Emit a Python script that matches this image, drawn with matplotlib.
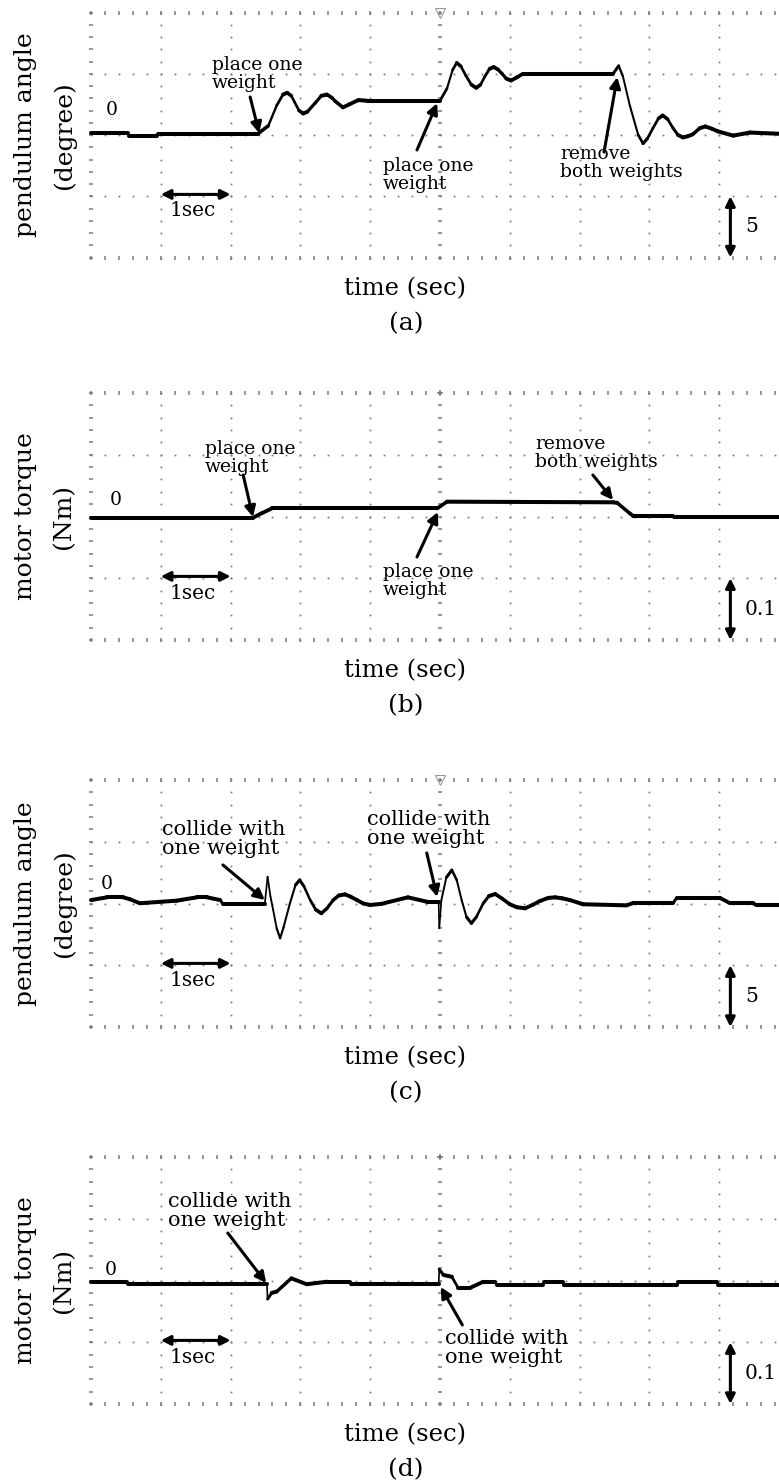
import matplotlib
matplotlib.use("Agg")
import matplotlib.pyplot as plt
from matplotlib.collections import LineCollection
import numpy as np

plt.rcParams['font.family'] = ['DejaVu Serif']

W, H = 779, 1484
DPI = 100

# ---- traces (time in seconds) ----
a_time = [0.0, 0.53, 0.54, 0.95, 0.96, 2.39, 2.54, 2.66, 2.75, 2.81, 2.87, 2.92, 2.98, 3.04,
          3.10, 3.21, 3.30, 3.38, 3.45, 3.50, 3.61, 3.70, 3.83, 3.95, 4.96, 5.00, 5.10, 5.18,
          5.24, 5.30, 5.37, 5.45, 5.52, 5.58, 5.64, 5.71, 5.77, 5.83, 5.89, 5.95, 6.02, 6.10,
          6.19, 7.48, 7.56, 7.62, 7.72, 7.84, 7.91, 7.97, 8.05, 8.13, 8.19, 8.26, 8.34, 8.41,
          8.48, 8.55, 8.62, 8.72, 8.80, 8.90, 8.98, 9.20, 9.44, 9.86]
a_angle = [0.15, 0.15, -0.05, -0.05, 0.1, 0.1, 0.75, 2.4, 3.3, 3.45, 3.2, 2.65, 2.0, 1.75,
           1.9, 2.6, 3.2, 3.3, 3.05, 2.75, 2.25, 2.5, 2.85, 2.8, 2.8, 2.8, 3.8, 5.3,
           5.9, 5.6, 4.85, 4.1, 3.85, 4.1, 4.75, 5.4, 5.55, 5.35, 5.0, 4.6, 4.45, 4.7,
           5.0, 5.0, 5.65, 4.8, 2.4, 0.0, -0.7, -0.3, 0.55, 1.35, 1.6, 1.3, 0.55, 0.0,
           -0.2, -0.1, 0.05, 0.55, 0.7, 0.5, 0.3, -0.05, 0.2, 0.1]

b_time = [0.0, 2.32, 2.44, 2.59, 4.96, 5.10, 7.48, 7.54, 7.72, 7.77, 8.34, 8.35, 9.86]
b_torque = [-0.002, -0.002, 0.005, 0.013, 0.013, 0.024, 0.023, 0.022, 0.005, 0.001, 0.001,
            -0.001, -0.001]

c_time = [0.0, 0.23, 0.46, 0.56, 0.70, 1.23, 1.30, 1.52, 1.66, 1.85, 1.89, 2.49, 2.53, 2.57,
          2.61, 2.66, 2.71, 2.76, 2.85, 2.93, 2.99, 3.05, 3.14, 3.22, 3.30, 3.38, 3.47, 3.55,
          3.64, 3.72, 3.81, 3.90, 4.00, 4.16, 4.54, 4.81, 4.98, 4.99, 5.02, 5.09, 5.17, 5.24,
          5.31, 5.38, 5.45, 5.52, 5.62, 5.70, 5.79, 5.89, 6.00, 6.10, 6.22, 6.33, 6.43, 6.55,
          6.65, 6.75, 6.86, 7.05, 7.67, 7.77, 8.34, 8.39, 9.01, 9.15, 9.48, 9.54, 9.86]
c_angle = [0.28, 0.5, 0.5, 0.34, 0.02, 0.23, 0.3, 0.5, 0.5, 0.28, -0.03, -0.03, 2.17, 0.6,
           -0.53, -2.0, -2.82, -1.9, 0.02, 1.5, 1.9, 1.4, 0.28, -0.5, -0.8, -0.4, 0.28, 0.65,
           0.74, 0.55, 0.28, 0.0, -0.12, -0.03, 0.5, 0.15, 0.15, -2.0, 0.28, 2.1, 2.71, 1.9,
           0.28, -1.1, -1.6, -1.1, 0.02, 0.6, 0.77, 0.4, -0.06, -0.3, -0.39, -0.1, 0.2, 0.45,
           0.5, 0.42, 0.28, -0.06, -0.15, 0.04, 0.04, 0.45, 0.45, 0.04, 0.04, -0.15, -0.15]

d_time = [0.0, 0.52, 0.53, 2.52, 2.53, 2.59, 2.66, 2.87, 3.09, 3.38, 3.71, 3.72, 4.98, 4.99,
          5.05, 5.17, 5.26, 5.43, 5.62, 5.79, 5.81, 6.48, 6.49, 6.76, 6.77, 8.40, 8.41, 8.97,
          8.98, 9.86]
d_torque = [-0.002, -0.002, -0.006, -0.006, -0.030, -0.020, -0.018, 0.0035, -0.006, -0.002,
            -0.002, -0.006, -0.006, 0.018, 0.009, 0.006, -0.012, -0.012, -0.002, -0.002,
            -0.007, -0.007, -0.002, -0.002, -0.008, -0.008, -0.003, -0.003, -0.007, -0.007]

# amplitude per grid division
a_div, b_div, c_div, d_div = 5, 0.1, 5, 0.1
a_scale_label, b_scale_label = "5", "0.1"

# ---- annotations: (text, text_x, text_y, arrow tail, arrow head) ----
a_notes = [("place one\nweight", 1.73, 5.0, (2.28, 3.1), (2.41, 0.15)),
           ("place one\nweight", 4.18, -3.26, (4.67, -1.22), (4.96, 2.6)),
           ("remove\nboth weights", 6.72, -2.28, (7.35, -1.39), (7.54, 4.73))]
b_notes = [("place one\nweight", 1.63, 0.0955, (2.18, 0.0672), (2.32, -0.001)),
           ("place one\nweight", 4.18, -0.1045, (4.67, -0.0656), (4.97, 0.0073)),
           ("remove\nboth weights", 6.36, 0.1036, (7.19, 0.0672), (7.48, 0.0267))]
c_notes = [("collide with\none weight", 1.02, 5.26, (1.89, 3.12), (2.49, 0.28)),
           ("collide with\none weight", 3.95, 6.03, (4.81, 4.09), (4.96, 0.53))]
d_notes = [("collide with\none weight", 1.10, 0.1126, (1.96, 0.0769), (2.51, -0.004)),
           ("collide with\none weight", 5.07, -0.110, (5.32, -0.072), (5.01, -0.0105))]

X_LEFT_PX = 91
X_DIV_PX = 69.8
T_MAX = (W - X_LEFT_PX) / X_DIV_PX
GRID = '#7a7a7a'

fig = plt.figure(figsize=(W / DPI, H / DPI), dpi=DPI)
fig.patch.set_facecolor('white')


def fy(py):
    return 1 - py / H


def fx(px):
    return px / W


def trace(ax, t, v, div, ydiv_px):
    """Scope trace: flat stretches draw heavy, fast swings draw thinner."""
    t = np.asarray(t, float)
    v = np.asarray(v, float)
    pts = np.column_stack([t, v])
    segs = np.stack([pts[:-1], pts[1:]], axis=1)
    dx = np.diff(t) * X_DIV_PX
    dy = np.abs(np.diff(v)) / div * ydiv_px
    steep = dy / np.maximum(dx, 1e-6)
    widths = 1.2 + 1.7 / (1 + (steep / 1.6) ** 2)
    lc = LineCollection(segs, colors='black', linewidths=widths, capstyle='round',
                        joinstyle='round', clip_on=False)
    ax.add_collection(lc)


def panel(top_px, bot_px, t, v, div, notes, note_size, scale_label, zero_xy,
          ylab1, ylab2, letter, trigger):
    ax = fig.add_axes([fx(X_LEFT_PX), fy(bot_px), 1 - fx(X_LEFT_PX), (bot_px - top_px) / H])
    ax.set_xlim(0, T_MAX)
    ax.set_ylim(-2 * div, 2 * div)
    ax.axis('off')
    ydiv_px = (bot_px - top_px) / 4

    # dotted graticule
    minor_x = np.arange(0, T_MAX + 1e-9, 0.2)
    minor_y = np.arange(-2, 2.0001, 0.2) * div
    for k in range(0, 10):
        if k == 0:
            ax.plot(np.full_like(minor_y, k), minor_y, ls='none', marker='_', ms=3.5,
                    mew=1.1, color=GRID, clip_on=False)
        elif k == 5:
            ax.plot(np.full_like(minor_y, k), minor_y, ls='none', marker='_', ms=2.5,
                    mew=1.1, color=GRID, clip_on=False)
        else:
            ax.plot(np.full_like(minor_y, k), minor_y, ls='none', marker='s', ms=1.25,
                    mew=0, color=GRID, clip_on=False)
    for j in range(-2, 3):
        yy = np.full_like(minor_x, j * div)
        if abs(j) == 2:
            ax.plot(minor_x, yy, ls='none', marker='|', ms=3.5, mew=1.1, color=GRID,
                    clip_on=False)
        else:
            ax.plot(minor_x, yy, ls='none', marker='s', ms=1.25, mew=0, color=GRID,
                    clip_on=False)
    if trigger:
        ax.plot([5], [2 * div], marker='v', ms=7, mfc='none', mec='#999999', mew=0.8,
                clip_on=False)
    else:
        ax.plot([5], [2 * div], marker='+', ms=5, mew=1.1, color=GRID, clip_on=False)

    trace(ax, t, v, div, ydiv_px)

    # event labels and arrows
    for txt, tx, ty, tail, head in notes:
        ax.text(tx, ty, txt, ha='left', va='center', fontsize=note_size, linespacing=1.0)
        ax.annotate('', xy=head, xytext=tail,
                    arrowprops=dict(arrowstyle='-|>', color='black', lw=2.2,
                                    mutation_scale=16, shrinkA=0, shrinkB=0))

    # zero marker
    ax.text(zero_xy[0], zero_xy[1], '0', ha='center', va='center', fontsize=13.5)

    # time scale bar
    ax.annotate('', xy=(1, -0.97 * div), xytext=(2, -0.97 * div),
                arrowprops=dict(arrowstyle='<|-|>', color='black', lw=2.2,
                                mutation_scale=14, shrinkA=0, shrinkB=0))
    ax.text(1.46, -1.24 * div, '1sec', ha='center', va='center', fontsize=14.5)

    # amplitude scale bar
    ax.annotate('', xy=(9.16, -2 * div), xytext=(9.16, -1 * div),
                arrowprops=dict(arrowstyle='<|-|>', color='black', lw=2.2,
                                mutation_scale=14, shrinkA=0, shrinkB=0),
                annotation_clip=False)
    ax.text(9.37, -1.5 * div, scale_label, ha='left', va='center', fontsize=14.5)

    # axis labels
    cy = (top_px + bot_px) / 2
    fig.text(fx(26), fy(cy), ylab1, rotation=90, ha='center', va='center', fontsize=18)
    fig.text(fx(64), fy(cy), ylab2, rotation=90, ha='center', va='center', fontsize=18)
    fig.text(fx(405), fy(bot_px + 31), 'time (sec)', ha='center', va='center', fontsize=17.5)
    fig.text(fx(406), fy(bot_px + 66), letter, ha='center', va='center', fontsize=18)
    return ax


panel(12.5, 257.5, a_time, a_angle, a_div, a_notes, 13.5, a_scale_label, (0.3, 2.04),
      'pendulum angle', '(degree)', '(a)', True)
panel(393, 640, b_time, b_torque, b_div, b_notes, 13.5, b_scale_label, (0.36, 0.0267),
      'motor torque', '(Nm)', '(b)', False)
panel(780, 1027, c_time, c_angle, c_div, c_notes, 15, a_scale_label, (0.22, 1.54),
      'pendulum angle', '(degree)', '(c)', True)
panel(1157, 1404, d_time, d_torque, d_div, d_notes, 15, b_scale_label, (0.29, 0.0178),
      'motor torque', '(Nm)', '(d)', False)

fig.savefig('out.png', dpi=DPI, facecolor='white')
